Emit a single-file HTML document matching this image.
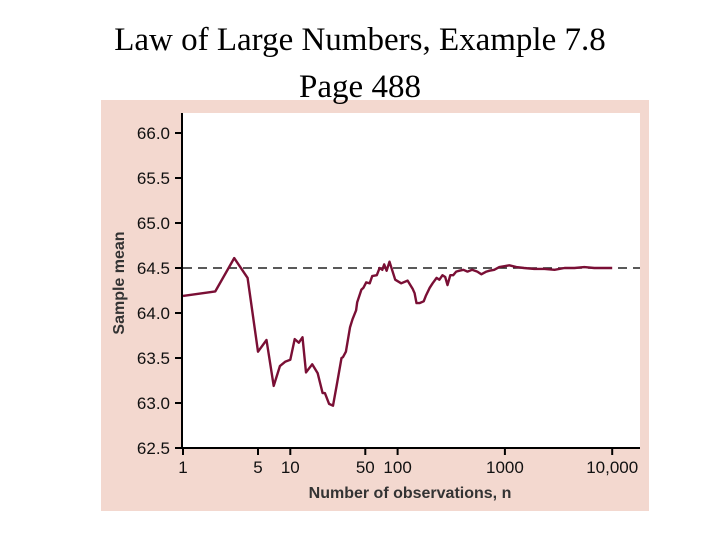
<!DOCTYPE html>
<html><head><meta charset="utf-8"><style>
html,body{margin:0;padding:0;background:#fff;}
body{width:720px;height:540px;overflow:hidden;position:relative;}
.t{position:absolute;left:0;width:720px;text-align:center;font-family:"Liberation Serif",serif;font-size:33px;color:#000;z-index:2;line-height:1.15;}
</style></head><body>
<svg id="c" width="720" height="540" style="position:absolute;left:0;top:0;z-index:1"></svg>
<div class="t" style="top:22px">Law of Large Numbers, Example 7.8</div>
<div class="t" style="top:69px">Page 488</div>
<script>
const nObs=[1,2,3,4,5,6,7,8,9,10,11,12,13,14,16,18,20,21,23,25,27,30,31,33,36,38,41,42,46,48,51,55,58,64,68,72,75,79,84,95,108,124,138,144,150,160,175,183,199,212,231,245,262,278,292,310,330,352,377,410,448,495,553,603,673,718,795,887,990,1100,1280,1510,1870,2340,2900,3590,4450,5500,6810,8100,10000];
const meanVals=[64.19,64.24,64.61,64.39,63.57,63.70,63.19,63.41,63.46,63.48,63.71,63.67,63.73,63.34,63.43,63.33,63.11,63.11,62.99,62.97,63.19,63.50,63.51,63.57,63.84,63.93,64.03,64.12,64.26,64.28,64.34,64.33,64.41,64.42,64.50,64.48,64.54,64.47,64.57,64.37,64.33,64.36,64.27,64.22,64.11,64.11,64.13,64.19,64.28,64.33,64.39,64.37,64.42,64.40,64.31,64.42,64.42,64.46,64.47,64.48,64.46,64.48,64.46,64.43,64.46,64.47,64.48,64.51,64.52,64.53,64.51,64.50,64.49,64.49,64.48,64.50,64.50,64.51,64.50,64.50,64.50];
const yTicks=[62.5,63.0,63.5,64.0,64.5,65.0,65.5,66.0];
const xTicks=[1,5,10,50,100,1000,10000];
const xTickLabels=["1","5","10","50","100","1000","10,000"];
const popMean=64.5;
const svg=document.getElementById('c');const NS='http://www.w3.org/2000/svg';
function mk(t,a,p){const e=document.createElementNS(NS,t);for(const k in a)e.setAttribute(k,a[k]);(p||svg).appendChild(e);return e;}
const X=n=>183+Math.log10(n)*107.3;
const Y=v=>133+(66-v)*90;
const F='Liberation Sans, DejaVu Sans, sans-serif';
let e;
e=mk('rect',{x:101,y:100,width:548,height:411,fill:'#f3d8cf'});


e=mk('rect',{x:183,y:113,width:457,height:335,fill:'#fff'});


e=mk('line',{x1:183,y1:Y(popMean),x2:640,y2:Y(popMean),stroke:'#222','stroke-width':1.5,'stroke-dasharray':'9,6'});


e=mk('polyline',{points:nObs.map((n,i)=>X(n).toFixed(1)+','+Y(meanVals[i]).toFixed(1)).join(' '),fill:'none',stroke:'#7a0f35','stroke-width':2.4,'stroke-linejoin':'round'});


e=mk('line',{x1:182,y1:113,x2:182,y2:449,stroke:'#000','stroke-width':2});


e=mk('line',{x1:181,y1:448,x2:640,y2:448,stroke:'#000','stroke-width':2});


yTicks.forEach(v=>{
 const tk=mk('line',{x1:175,y1:Y(v),x2:182,y2:Y(v),stroke:'#000','stroke-width':2});
 
 
 const t=mk('text',{x:170,y:Y(v)+6,'text-anchor':'end','font-family':F,'font-size':17,fill:'#111'});
 t.textContent=v.toFixed(1);
 
 
});
xTicks.forEach((n,i)=>{
 const tk=mk('line',{x1:X(n),y1:448,x2:X(n),y2:455,stroke:'#000','stroke-width':2});
 
 
 const t=mk('text',{x:X(n),y:473,'text-anchor':'middle','font-family':F,'font-size':17,fill:'#111'});
 t.textContent=xTickLabels[i];
 
 
});
e=mk('text',{x:410,y:498,'text-anchor':'middle','font-family':F,'font-size':16,'font-weight':'bold',fill:'#333'});
e.textContent='Number of observations, n';


e=mk('text',{x:0,y:0,transform:'translate(124,283) rotate(-90)','text-anchor':'middle','font-family':F,'font-size':16,'font-weight':'bold',fill:'#333'});
e.textContent='Sample mean';


</script>
</body></html>
